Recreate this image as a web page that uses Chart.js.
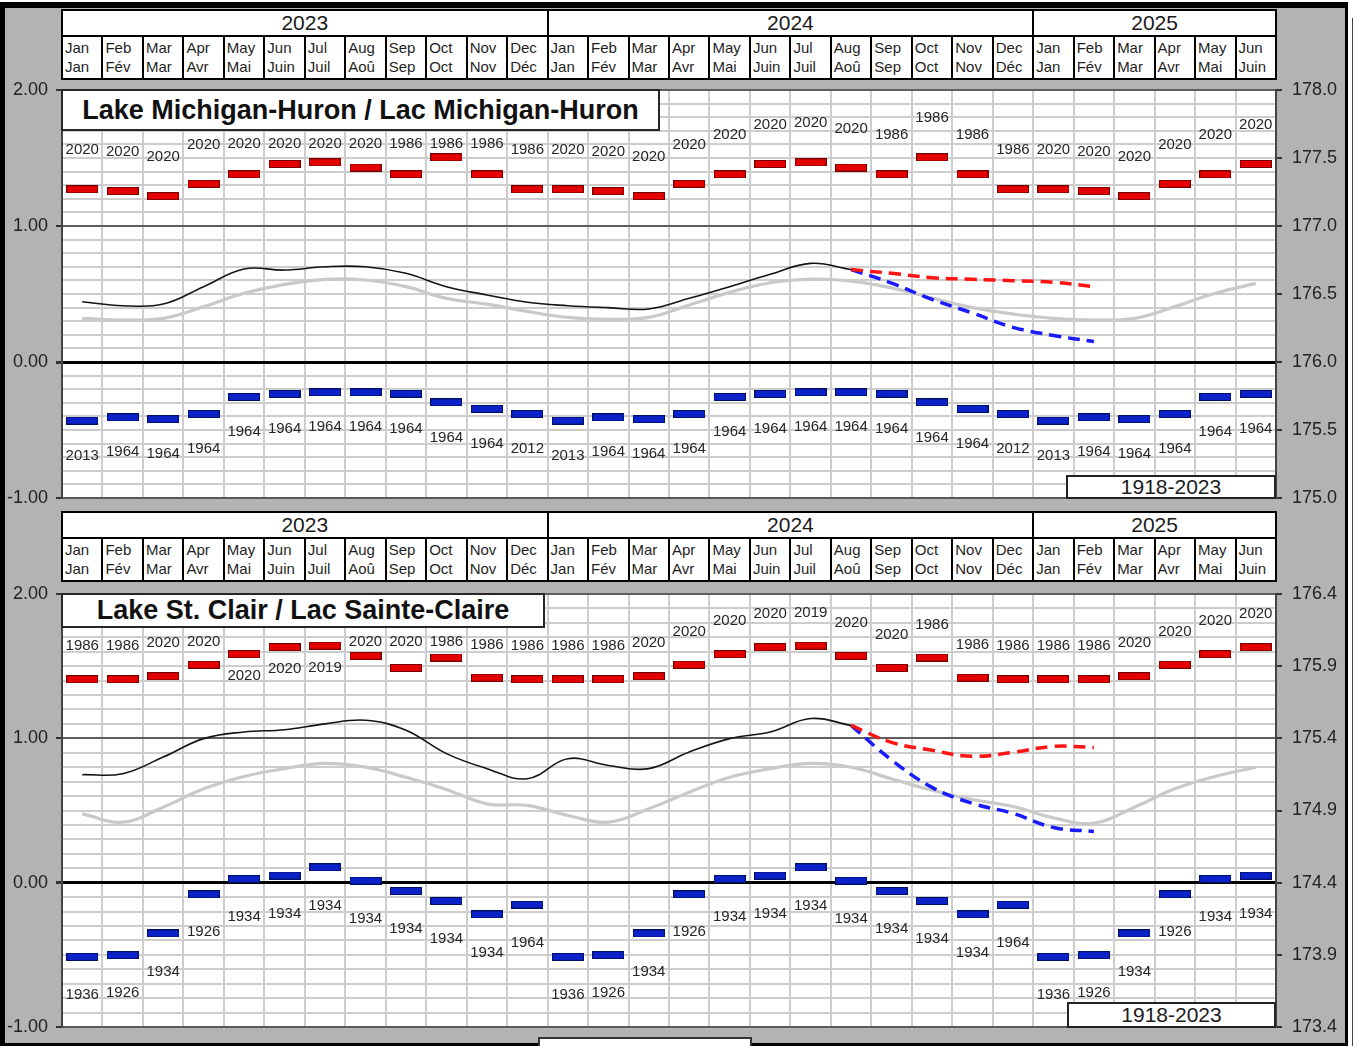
<!DOCTYPE html>
<html><head><meta charset="utf-8">
<script src="https://cdn.jsdelivr.net/npm/chart.js@4.4.1/dist/chart.umd.min.js"></script>
<style>
html,body{margin:0;padding:0;background:#fff;}
#page{position:relative;width:1355px;height:1046px;overflow:hidden;font-family:"Liberation Sans",Arial,sans-serif;color:#1a1a1a;}
.abs{position:absolute;box-sizing:border-box;}
canvas{position:absolute;left:0;}
</style></head><body><div id="page"></div>
<script>
// ---------- data ----------
const monthsEn = ['Jan','Feb','Mar','Apr','May','Jun','Jul','Aug','Sep','Oct','Nov','Dec'];
const monthsFr = ['Jan','Fév','Mar','Avr','Mai','Juin','Juil','Aoû','Sep','Oct','Nov','Déc'];
const years = ['2023','2024','2025'];
const monthsPerYear = [12,12,6];
const periodLabel = '1918-2023';

const mhTitle = 'Lake Michigan-Huron / Lac Michigan-Huron';
const mhActual = [0.443,0.414,0.426,0.554,0.684,0.676,0.700,0.700,0.652,0.554,0.493,0.439,
                  0.414,0.400,0.390,0.468,0.554,0.645,0.725,0.680,
                  null,null,null,null,null,null,null,null,null,null];
const mhAverage = [0.321,0.309,0.321,0.407,0.505,0.571,0.608,0.603,0.554,0.468,0.425,0.372,
                   0.328,0.314,0.328,0.419,0.512,0.583,0.610,0.595,0.545,0.470,0.400,0.353,
                   0.321,0.309,0.321,0.407,0.505,0.578];
const mhForecastHigh = [null,null,null,null,null,null,null,null,null,null,null,null,
                        null,null,null,null,null,null,null,0.680,0.652,0.620,0.608,0.598,
                        0.586,0.554,null,null,null,null];
const mhForecastLow = [null,null,null,null,null,null,null,null,null,null,null,null,
                       null,null,null,null,null,null,null,0.680,0.580,0.460,0.360,0.255,
                       0.195,0.150,null,null,null,null];
const mhRecordHigh = [1.270,1.257,1.220,1.310,1.380,1.456,1.468,1.430,1.380,1.505,1.380,1.270];
const mhRecordHighYear = ['2020','2020','2020','2020','2020','2020','2020','2020','1986','1986','1986','1986'];
const mhRecordLow = [-0.431,-0.407,-0.420,-0.382,-0.257,-0.235,-0.223,-0.223,-0.233,-0.297,-0.345,-0.382];
const mhRecordLowYear = ['2013','1964','1964','1964','1964','1964','1964','1964','1964','1964','1964','2012'];
const mhRightTicks = [175.0,175.5,176.0,176.5,177.0,177.5,178.0];

const scTitle = 'Lake St. Clair / Lac Sainte-Claire';
const scActual = [0.748,0.755,0.870,0.998,1.044,1.060,1.100,1.125,1.056,0.894,0.790,0.720,
                  0.859,0.812,0.790,0.905,0.998,1.044,1.137,1.090,
                  null,null,null,null,null,null,null,null,null,null];
const scAverage = [0.477,0.419,0.523,0.650,0.736,0.790,0.826,0.800,0.730,0.646,0.546,0.535,
                   0.465,0.419,0.512,0.627,0.730,0.790,0.826,0.800,0.720,0.640,0.576,0.528,
                   0.449,0.412,0.523,0.650,0.736,0.800];
const scForecastHigh = [null,null,null,null,null,null,null,null,null,null,null,null,
                        null,null,null,null,null,null,null,1.090,0.972,0.917,0.875,0.903,
                        0.944,0.937,null,null,null,null];
const scForecastLow = [null,null,null,null,null,null,null,null,null,null,null,null,
                       null,null,null,null,null,null,null,1.090,0.850,0.660,0.549,0.480,
                       0.382,0.355,null,null,null,null];
const scRecordHigh = [1.410,1.410,1.430,1.510,1.583,1.632,1.642,1.572,1.488,1.560,1.420,1.410];
const scRecordHighYear = ['1986','1986','2020','2020','2020','2020','2019','2020','2020','1986','1986','1986'];
const scRecordLow = [-0.514,-0.502,-0.352,-0.081,0.026,0.049,0.106,0.014,-0.058,-0.127,-0.220,-0.153];
const scRecordLowYear = ['1936','1926','1934','1926','1934','1934','1934','1934','1934','1934','1934','1964'];
const scRightTicks = [173.4,173.9,174.4,174.9,175.4,175.9,176.4];

// ---------- layout ----------
const FONT = '"Liberation Sans", Arial, sans-serif';
Chart.defaults.font.family = FONT;
const page = document.getElementById('page');
const PLOT_L = 62, PLOT_R = 1276, CANVAS_W = 1345;
const nCols = monthsPerYear.reduce((a,b)=>a+b,0);
const colX = i => PLOT_L + i*(PLOT_R-PLOT_L)/nCols;

function box(l,t,w,h,style){
  const d=document.createElement('div'); d.className='abs';
  Object.assign(d.style,{left:l+'px',top:t+'px',width:w+'px',height:h+'px'},style||{});
  page.appendChild(d); return d;
}

// frame
box(0,2,1348,1044,{background:'#b3b3b3',borderTop:'6px solid #000',borderLeft:'5px solid #000',borderRight:'3px solid #000',borderBottom:'3px solid #000'});
box(1352,18,1,1028,{background:'#444'});
box(538,1037,214,12,{background:'#fff',border:'2px solid #333'});

function header(T){
  box(PLOT_L-1,T,PLOT_R-PLOT_L+2,71,{background:'#fff',border:'2px solid #000'});
  box(PLOT_L-1,T+26,PLOT_R-PLOT_L+2,2,{background:'#000'});
  let c=0;
  years.forEach((y,k)=>{
    const a=c, b=c+monthsPerYear[k];
    const t=box(colX(a),T+2,colX(b)-colX(a),24,{textAlign:'center',font:'21px '+FONT,lineHeight:'24px',color:'#1a1a1a'});
    t.textContent=y;
    if(k>0) box(colX(a)-1,T,2,71,{background:'#000'});
    for(let i=a;i<b;i++){
      if(i>a) box(colX(i)-1,T+27,2,44,{background:'#000'});
      const m=box(colX(i)+3,T+29,38,40,{font:'15px '+FONT,lineHeight:'19px',color:'#1f1f1f',whiteSpace:'nowrap'});
      m.innerHTML=monthsEn[i%12]+'<br>'+monthsFr[i%12];
    }
    c=b;
  });
}

function makeDash(fill,stroke){
  const c=document.createElement('canvas'); c.width=32; c.height=8;
  const x=c.getContext('2d'); x.fillStyle=stroke; x.fillRect(0,0,32,8);
  x.fillStyle=fill; x.fillRect(1,1,30,6); return c;
}
const redDash=makeDash('#e40000','#7a0000');
const blueDash=makeDash('#0a22c8','#001066');

const isInt=v=>Math.abs(v-Math.round(v))<1e-6;

function panel(p){
  header(p.headerTop);
  const PAD=14;
  const cv=document.createElement('canvas');
  cv.width=CANVAS_W; cv.height=p.plotBottom-p.plotTop+2*PAD;
  cv.style.top=(p.plotTop-PAD)+'px'; cv.style.width=CANVAS_W+'px'; cv.style.height=cv.height+'px';
  page.appendChild(cv);

  const labels=[]; let c=0;
  years.forEach((y,k)=>{for(let i=0;i<monthsPerYear[k];i++){labels.push(monthsEn[i]+' '+y);}});
  const hi=labels.map((_,i)=>p.recHigh[i%12]);
  const lo=labels.map((_,i)=>p.recLow[i%12]);

  const lineDs=(data,color,width,dash)=>({type:'line',data,borderColor:color,borderWidth:width,borderDash:dash||[],
    pointRadius:0,tension:0.4,fill:false,spanGaps:false,borderCapStyle:'butt',yAxisID:'y'});

  const labelPlugin={id:'recLabels',
    beforeDraw(chart){const a=chart.chartArea,ctx=chart.ctx;ctx.save();ctx.fillStyle='#fff';
      ctx.fillRect(a.left,a.top,a.right-a.left,a.bottom-a.top);ctx.restore();},
    afterDatasetsDraw(chart){
      const ctx=chart.ctx,a=chart.chartArea; ctx.save();
      ctx.font='15px '+FONT; ctx.fillStyle='#262626'; ctx.textAlign='center'; ctx.textBaseline='middle';
      const tb=a.top+p.titleH, tr=a.left+p.titleW;
      chart.getDatasetMeta(0).data.forEach((pt,i)=>{
        let y=pt.y-p.hiOff;
        if(pt.x-16<tr && y<tb+p.clampGap){ y=tb+p.clampGap; if(y>pt.y-13) y=pt.y+22; }
        ctx.fillText(p.recHighYear[i%12],pt.x,y);
      });
      chart.getDatasetMeta(1).data.forEach((pt,i)=>{
        ctx.fillText(p.recLowYear[i%12],pt.x,pt.y+p.loOff);
      });
      ctx.restore();
    }};

  new Chart(cv,{
    data:{labels,datasets:[
      {type:'line',data:hi,showLine:false,pointStyle:redDash,pointRadius:4,yAxisID:'y'},
      {type:'line',data:lo,showLine:false,pointStyle:blueDash,pointRadius:4,yAxisID:'y'},
      lineDs(p.fcHigh,'#ff1414',3.5,[12,7]),
      lineDs(p.fcLow,'#1a1aff',3.5,[12,7]),
      lineDs(p.actual,'#141414',1.6),
      lineDs(p.avg,'#c9c9c9',3.2)
    ]},
    options:{responsive:false,animation:false,devicePixelRatio:1,events:[],
      layout:{padding:{top:PAD,bottom:PAD,left:0,right:0}},
      plugins:{legend:{display:false},tooltip:{enabled:false},title:{display:false}},
      scales:{
        x:{type:'category',offset:true,z:-2,
           grid:{offset:true,color:'#cdcdcd',lineWidth:2,drawTicks:false},
           ticks:{display:false},border:{display:true,color:'#5a5a5a',width:2},
           afterFit(s){s.height=0;s.paddingLeft=0;s.paddingRight=0;}},
        y:{type:'linear',position:'left',min:-1,max:2,z:-1,
           ticks:{stepSize:0.1,autoSkip:false,color:'#222',font:{size:18},padding:8,
                  callback:v=>isInt(v)?Number(v).toFixed(2):''},
           grid:{tickLength:6,
                 color:ctx=>{const v=ctx.tick.value; if(Math.abs(v)<1e-6) return '#000'; return isInt(v)?'#5e5e5e':'#cdcdcd';},
                 lineWidth:ctx=>{const v=ctx.tick.value; return Math.abs(v)<1e-6?3:2;},
                 tickColor:ctx=>isInt(ctx.tick.value)?'#333':'rgba(0,0,0,0)'},
           border:{display:true,color:'#444',width:2},
           afterFit(s){s.width=PLOT_L;s.paddingTop=0;s.paddingBottom=0;}},
        y2:{type:'linear',position:'right',min:p.rightTicks[0],max:p.rightTicks[p.rightTicks.length-1],
           afterBuildTicks(s){s.ticks=p.rightTicks.map(v=>({value:v}));},
           ticks:{color:'#222',font:{size:18},padding:10,callback:v=>Number(v).toFixed(1)},
           grid:{drawOnChartArea:false,drawTicks:true,tickLength:6,tickColor:'#333',lineWidth:2},
           border:{display:true,color:'#444',width:2},
           afterFit(s){s.width=CANVAS_W-PLOT_R;s.paddingTop=0;s.paddingBottom=0;}}
      }},
    plugins:[labelPlugin]
  });

  // overlays
  const t=box(PLOT_L-1,p.plotTop-1,p.titleW+1,p.titleH+1,{background:'#fff',border:'2px solid #262626',
    textAlign:'center',font:'bold 27px '+FONT,lineHeight:(p.titleH-3)+'px',color:'#111',whiteSpace:'nowrap'});
  t.textContent=p.title;
  const pb=box(p.periodBox[0],p.periodBox[1],p.periodBox[2],p.periodBox[3],{background:'#fff',border:'2px solid #222',
    textAlign:'center',font:'21px '+FONT,lineHeight:(p.periodBox[3]-4)+'px',color:'#1a1a1a'});
  pb.textContent=periodLabel;
}

panel({headerTop:9,plotTop:90,plotBottom:498,title:mhTitle,titleW:598,titleH:41,
  actual:mhActual,avg:mhAverage,fcHigh:mhForecastHigh,fcLow:mhForecastLow,
  recHigh:mhRecordHigh,recHighYear:mhRecordHighYear,recLow:mhRecordLow,recLowYear:mhRecordLowYear,
  rightTicks:mhRightTicks,hiOff:39,clampGap:13,loOff:35,periodBox:[1066,475,210,24]});
panel({headerTop:511,plotTop:594,plotBottom:1027,title:scTitle,titleW:483,titleH:34,
  actual:scActual,avg:scAverage,fcHigh:scForecastHigh,fcLow:scForecastLow,
  recHigh:scRecordHigh,recHighYear:scRecordHighYear,recLow:scRecordLow,recLowYear:scRecordLowYear,
  rightTicks:scRightTicks,hiOff:33,clampGap:14,loOff:38,periodBox:[1067,1002,209,26]});
</script></body></html>
